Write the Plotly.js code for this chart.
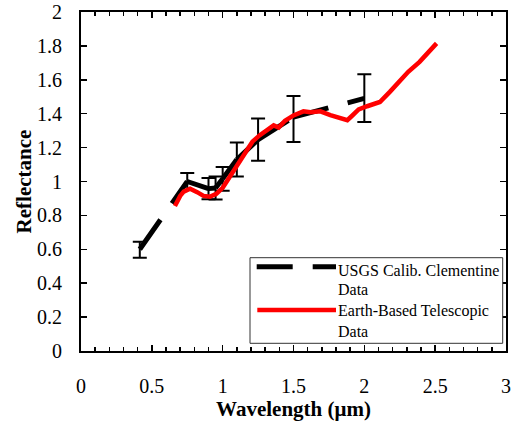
<!DOCTYPE html>
<html>
<head>
<meta charset="utf-8">
<script src="https://cdn.plot.ly/plotly-3.0.1.min.js"></script>
<style>
  html, body { margin: 0; padding: 0; background: #fff; }
  #chart { width: 511px; height: 422px; }
</style>
</head>
<body>
<div id="chart"></div>
<script>
// USGS calibrated Clementine data (wavelength in µm, reflectance)
const clemWavelength = [0.415, 0.75, 0.90, 0.95, 1.00, 1.10, 1.25, 1.50, 2.00];
const clemReflectance = [0.600, 1.000, 0.958, 0.962, 1.016, 1.130, 1.247, 1.380, 1.490];
const clemErrPlus = [0.045, 0.050, 0.063, 0.068, 0.070, 0.100, 0.124, 0.125, 0.143];
const clemErrMinus = [0.050, 0.050, 0.063, 0.068, 0.070, 0.100, 0.124, 0.147, 0.139];

// Earth-based telescopic data
const teleWavelength = [0.663, 0.700, 0.725, 0.770, 0.820, 0.865, 0.910, 0.955, 1.000, 1.050,
  1.100, 1.150, 1.210, 1.260, 1.300, 1.360, 1.395, 1.440, 1.500, 1.570, 1.620, 1.690, 1.760,
  1.830, 1.880, 1.910, 1.960, 2.020, 2.110, 2.180, 2.260, 2.310, 2.390, 2.450, 2.510];
const teleReflectance = [0.855, 0.915, 0.940, 0.957, 0.937, 0.915, 0.910, 0.927, 0.963, 1.026,
  1.100, 1.160, 1.235, 1.272, 1.295, 1.331, 1.318, 1.358, 1.390, 1.414, 1.408, 1.414, 1.392,
  1.372, 1.362, 1.385, 1.425, 1.444, 1.469, 1.529, 1.598, 1.647, 1.706, 1.760, 1.815];

// Axis ticks
const xTickVals = [0, 0.5, 1, 1.5, 2, 2.5, 3];
const xTickText = ['0', '0.5', '1', '1.5', '2', '2.5', '3'];
const yTickVals = [0, 0.2, 0.4, 0.6, 0.8, 1, 1.2, 1.4, 1.6, 1.8, 2];
const yTickText = ['0', '0.2', '0.4', '0.6', '0.8', '1', '1.2', '1.4', '1.6', '1.8', '2'];

// Legend labels
const legendNames = ['USGS Calib. Clementine', 'Data', 'Earth-Based Telescopic', 'Data'];

const serif = 'Liberation Serif';
const clemDash = '36px,20px';

const traces = [];
// Clementine line: one path per segment so the dash pattern restarts at each point
for (let i = 0; i < clemWavelength.length - 1; i++) {
  traces.push({
    x: clemWavelength.slice(i, i + 2), y: clemReflectance.slice(i, i + 2),
    type: 'scatter', mode: 'lines', showlegend: false, hoverinfo: 'skip',
    line: { color: '#000000', width: 5, dash: clemDash }
  });
}
// Clementine error bars
traces.push({
  x: clemWavelength, y: clemReflectance, type: 'scatter', mode: 'markers',
  name: 'USGS Calib. Clementine Data', showlegend: false,
  marker: { size: 1, color: 'rgba(0,0,0,0)' },
  error_y: { type: 'data', symmetric: false, array: clemErrPlus, arrayminus: clemErrMinus,
    color: '#000000', thickness: 2, width: 7 }
});
// Telescopic spectrum
traces.push({
  x: teleWavelength, y: teleReflectance, type: 'scatter', mode: 'lines',
  name: 'Earth-Based Telescopic Data', showlegend: false,
  line: { color: '#ff0000', width: 4.5 }
});

const axisCommon = {
  showline: true, linecolor: '#000000', linewidth: 2, mirror: 'ticks',
  ticks: 'inside', tickcolor: '#000000', tickwidth: 1.5, ticklen: 6,
  showgrid: false, zeroline: false,
  tickfont: { family: serif, size: 20, color: '#000000' }
};

function px2paperX(px) { return (px - 81) / 425; }
function px2paperY(py) { return (351 - py) / 339; }

const layout = {
  width: 511, height: 422,
  margin: { l: 81, r: 5, t: 12, b: 71 },
  paper_bgcolor: '#ffffff', plot_bgcolor: '#ffffff',
  showlegend: false,
  font: { family: serif, color: '#000000' },
  xaxis: Object.assign({}, axisCommon, {
    range: [0, 3], tickmode: 'array', tickvals: xTickVals, ticktext: xTickText,
    ticklabelstandoff: 16,
    minor: { dtick: 0.1, ticks: 'inside', ticklen: 4, tickwidth: 1.5, tickcolor: '#000000', showgrid: false },
    title: { text: 'Wavelength (\u03bcm)', font: { family: serif, size: 21, color: '#000000', weight: 'bold' }, standoff: 2 }
  }),
  yaxis: Object.assign({}, axisCommon, {
    range: [0, 2], tickmode: 'array', tickvals: yTickVals, ticktext: yTickText,
    ticklabelstandoff: 13,
    title: { text: 'Reflectance', font: { family: serif, size: 21, color: '#000000', weight: 'bold' }, standoff: 0 }
  }),
  shapes: [
    { type: 'rect', xref: 'paper', yref: 'paper',
      x0: px2paperX(250), x1: px2paperX(502.7), y0: px2paperY(343.3), y1: px2paperY(257.7),
      line: { color: '#333333', width: 1 }, fillcolor: '#ffffff', layer: 'above' },
    { type: 'line', xref: 'paper', yref: 'paper',
      x0: px2paperX(256.7), x1: px2paperX(336), y0: px2paperY(266.7), y1: px2paperY(266.7),
      line: { color: '#000000', width: 5, dash: clemDash }, layer: 'above' },
    { type: 'line', xref: 'paper', yref: 'paper',
      x0: px2paperX(257.3), x1: px2paperX(336), y0: px2paperY(310), y1: px2paperY(310),
      line: { color: '#ff0000', width: 4.5 }, layer: 'above' }
  ],
  annotations: [
    { text: legendNames[0], py: 270 },
    { text: legendNames[1], py: 289.5 },
    { text: legendNames[2], py: 311 },
    { text: legendNames[3], py: 331 }
  ].map(a => ({
    text: a.text, xref: 'paper', yref: 'paper',
    x: px2paperX(336), y: px2paperY(a.py), xanchor: 'left', yanchor: 'middle',
    showarrow: false, font: { family: serif, size: 16, color: '#000000' }
  }))
};

Plotly.newPlot('chart', traces, layout, { displayModeBar: false, staticPlot: true });
</script>
</body>
</html>
